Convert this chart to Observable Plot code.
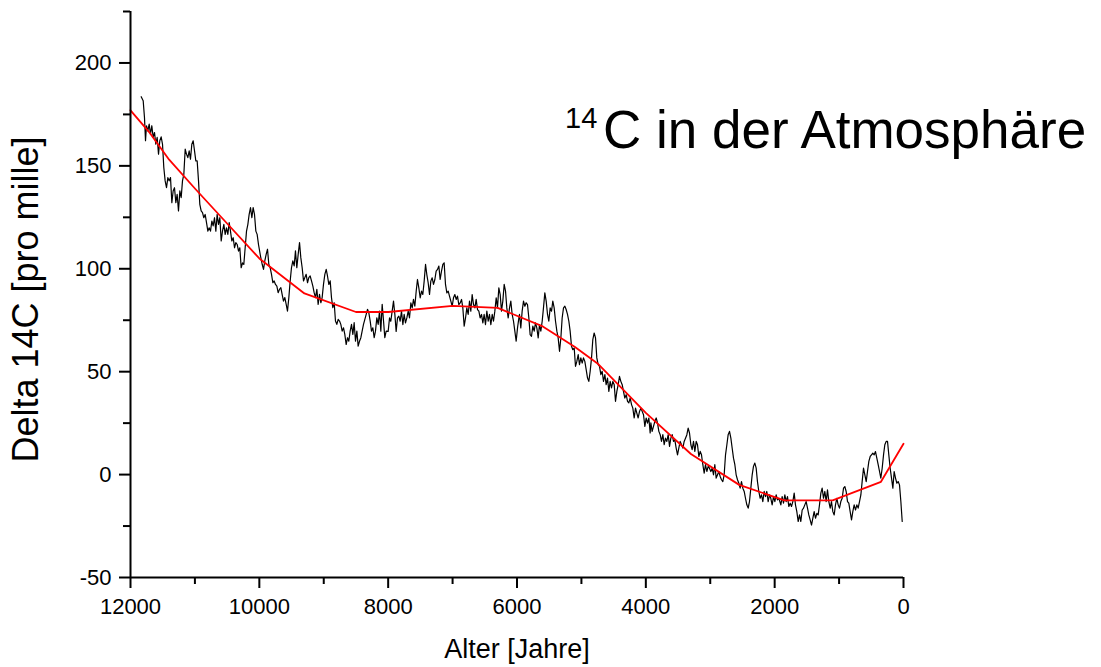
<!DOCTYPE html>
<html><head><meta charset="utf-8">
<script src="https://cdn.jsdelivr.net/npm/d3@7"></script>
<script src="https://cdn.jsdelivr.net/npm/@observablehq/plot@0.6"></script>
<style>
html,body{margin:0;padding:0;background:#fff;}
#chart{position:relative;width:1101px;height:667px;overflow:hidden;}
</style></head><body><div id="chart"></div>
<script>
// Tick labels
const xMajorTicks = [12000, 10000, 8000, 6000, 4000, 2000, 0];
const xMinorTicks = [11000, 9000, 7000, 5000, 3000, 1000];
const yMajorTicks = [-50, 0, 50, 100, 150, 200];
const yMinorTicks = [-25, 25, 75, 125, 175, 225];

// Measured Delta 14C (black)
const measuredAge = [11834,11803,11783,11767,11752,11731,11710,11690,11669,11648,11627,11607,11586,11565,11545,11524,11503,11483,11462,11441,11420,11400,11379,11358,11338,11317,11296,11276,11255,11234,11213,11193,11172,11151,11131,11110,11089,11069,11048,11027,11006,10986,10965,10944,10924,10903,10882,10862,10841,10820,10799,10779,10758,10737,10717,10696,10675,10655,10634,10613,10592,10572,10551,10530,10510,10489,10468,10448,10427,10406,10385,10365,10344,10323,10303,10282,10261,10241,10220,10199,10178,10158,10137,10116,10096,10075,10054,10034,10013,
9982,9956,9935,9915,9894,9873,9853,9832,9811,9790,9770,9749,9728,9708,9687,9666,9646,9625,9604,9583,9563,9542,9521,9501,9480,9459,9439,9418,9397,9376,9356,9335,9314,9294,9273,9252,9232,9211,9190,9169,9149,9128,9107,9087,9066,9045,9025,9004,8983,8962,8942,8921,8900,8880,8859,8838,8818,8797,8776,8755,8735,8714,8693,8673,8652,8631,8611,8590,8569,8548,8528,8507,8486,8466,8445,8424,8404,8383,8362,8341,8321,8300,8279,8259,8238,8217,8197,8176,8155,8134,8114,8093,8072,8052,8031,
8000,7979,7959,7938,7917,7896,7876,7855,7834,7814,7793,7772,7752,7731,7710,7689,7669,7648,7627,7607,7586,7565,7545,7524,7503,7482,7462,7441,7420,7400,7379,7358,7338,7317,7296,7275,7255,7234,7213,7193,7172,7151,7131,7110,7089,7068,7048,7027,7006,6986,6965,6944,6924,6903,6882,6861,6841,6820,6799,6779,6758,6737,6717,6696,6675,6654,6634,6613,6592,6572,6551,6530,6510,6489,6468,6447,6427,6406,6385,6365,6344,6323,6303,6282,6261,6241,6220,6199,6178,6158,6137,6116,6096,6075,6054,6033,6013,5992,5971,
5961,5941,5920,5899,5878,5858,5837,5816,5796,5775,5754,5733,5713,5692,5671,5651,5630,5609,5589,5568,5547,5526,5506,5485,5464,5444,5423,5402,5381,5361,5340,5319,5299,5278,5257,5237,5216,5195,5175,5154,5133,5112,5092,5071,5050,5030,5009,4988,4968,4947,4926,4905,4885,4864,4843,4823,4802,4781,4761,4740,4719,4698,4678,4657,4636,4616,4595,4574,4554,4533,4512,4491,4471,4450,4429,4409,4388,4367,4347,4326,4305,4284,4264,4243,4222,4202,4181,4160,4140,4119,4098,4077,4057,4036,4015,3995,3974,3953,3933,
3922,3902,3881,3860,3839,3819,3798,3777,3757,3736,3715,3695,3674,3653,3632,3612,3591,3570,3550,3529,3508,3488,3467,3446,3425,3405,3384,3363,3343,3322,3301,3281,3260,3239,3218,3198,3177,3156,3136,3115,3094,3074,3053,3032,3012,2991,2970,2949,2929,2908,2887,2867,2846,2825,2805,2784,2763,2742,2722,2701,2680,2660,2639,2618,2598,2577,2556,2536,2515,2494,2473,2453,2432,2411,2391,2370,2349,2329,2308,2287,2267,2246,2225,2204,2184,2163,2142,2122,2101,2080,2060,2039,2018,1997,1977,1956,1935,
1904,1884,1863,1842,1821,1801,1780,1759,1739,1718,1697,1677,1656,1635,1614,1594,1573,1552,1532,1511,1490,1470,1449,1428,1407,1387,1366,1345,1325,1304,1283,1263,1242,1221,1200,1180,1159,1138,1118,1097,1076,1056,1035,1014,994,973,952,931,911,890,869,849,828,807,787,766,745,724,704,683,662,642,621,600,579,559,538,517,497,476,455,435,414,393,372,352,331,310,290,269,248,228,207,186,165,145,124,103,83,62,41,20];
const measuredDelta = [183.6,181.6,173.5,162.2,169.5,167,170.3,165.4,169.5,163.8,166.2,160.5,163.8,155.7,162.2,164.1,160.5,149.2,142.7,139.4,144.3,142.7,144.3,132.1,137.8,139.4,132.1,136.2,128.1,137.8,134.6,142.7,145.9,158.1,155.7,154,157.3,153.2,160.5,162.2,157.3,152.4,152.4,142.7,131.3,128.1,127.3,124.8,126.4,122.4,118.3,119.9,118.3,123.2,120.8,124.8,118.3,126.4,121.6,124.8,113.5,118.3,121.6,116.7,119.9,116.7,122.4,118.3,113.5,115.1,110.2,112.7,111.8,108.6,110.2,100.5,102.9,102.1,110.2,118.3,121.6,126.4,129.7,124.8,129.7,126.4,118.3,116.7,111.8,
106.2,102.2,99.7,103.8,107.0,109.5,102.2,100.5,97.3,93.2,94.1,92.4,91.6,88.4,90.0,90.8,87.6,84.3,86.0,82.7,79.4,86.0,94.1,100.5,103.8,101.4,108.7,100.5,107.0,112.7,105.4,100.5,94.1,95.7,97.3,93.2,95.7,96.5,94.1,91.6,88.4,86.0,90.0,82.7,87.6,83.5,86.0,92.4,97.3,99.7,96.5,92.4,94.1,86.0,81.1,83.5,74.6,73.0,75.4,74.6,73.0,69.7,71.3,68.1,63.2,66.5,64.8,69.7,73.0,68.1,73.8,64.8,69.7,62.4,64.8,66.5,69.7,73.0,75.4,77.8,80.3,78.6,74.6,69.7,71.3,66.5,69.7,76.2,73.0,79.4,69.7,82.7,74.6,66.5,69.7,
69.6,76.1,74.5,79.4,84.3,77.8,69.6,76.1,77.0,74.5,79.4,72.9,77.8,73.7,76.1,79.4,76.1,83.4,81.0,85.1,81.8,89.1,94.8,90.7,85.9,89.1,87.5,94.0,102.1,97.2,93.2,87.5,94.0,95.6,92.4,94.8,98.9,99.7,101.3,94.8,98.9,102.1,102.9,92.4,88.3,89.1,86.7,84.3,81.8,85.9,87.5,85.1,86.7,82.6,83.4,85.1,81.0,72.1,76.1,81.0,77.8,84.3,79.4,87.5,82.6,81.0,85.1,80.2,79.4,76.1,77.8,73.7,77.8,72.9,79.4,74.5,77.8,72.9,77.8,74.5,79.4,85.9,81.0,90.7,87.5,79.4,84.3,92.4,89.1,81.0,76.1,81.0,84.3,77.8,74.5,69.6,64.8,71.3,76.1,
77.8,71.3,79.4,84.3,81.8,83.5,82.6,76.1,68.0,67.2,72.1,69.7,73.7,71.3,66.4,72.9,69.7,74.5,81.0,88.3,84.3,77.8,74.5,81.0,79.4,84.3,81.0,74.5,69.7,66.4,59.9,66.4,76.1,81.0,81.8,80.2,77.8,74.5,69.7,62.4,60.7,61.5,52.6,55.0,58.3,53.4,56.7,54.2,56.7,55.0,51.0,46.9,45.3,50.2,56.7,65.6,68.8,66.4,56.7,53.4,52.6,48.6,50.2,45.3,48.6,43.7,46.9,40.4,45.3,42.1,45.3,43.7,35.6,40.4,43.7,47.7,45.3,43.7,40.4,37.2,38.8,35.6,34.8,37.2,34.0,32.3,27.5,32.3,29.9,27.5,30.7,32.3,30.7,29.1,23.4,27.5,25.0,27.5,20.2,
25.1,21.0,23.4,25.9,27.5,25.1,21.0,19.4,16.1,19.4,14.5,17.7,16.1,19.4,13.7,17.7,19.4,16.1,16.9,12.9,9.6,12.9,16.1,14.5,12.9,16.1,17.7,19.4,22.6,20.2,14.5,12.1,16.1,11.3,16.1,14.5,8.8,11.3,9.6,4.8,0.7,4.8,1.5,4.0,3.1,1.5,3.1,-0.1,4.8,-1.7,-0.1,1.5,-0.9,-2.5,-3.4,-0.1,9.6,14.5,19.4,21.0,17.7,12.9,8.0,4.8,-0.1,-2.5,-4.2,-6.6,-3.4,-6.6,-8.2,-11.5,-14.7,-16.3,-13.1,-6.6,-0.1,4.0,5.6,3.1,-3.4,-8.2,-11.5,-9.8,-13.1,-8.2,-10.7,-8.2,-13.1,-9.8,-11.5,-14.7,-10.7,-13.1,-9.8,-12.3,-11.5,
-14.7,-10.7,-13.9,-9.9,-13.1,-10.7,-15.5,-13.9,-15.5,-13.1,-9.0,-14.7,-18.0,-22.8,-19.6,-22.8,-17.2,-16.3,-14.7,-13.1,-16.3,-19.6,-22.0,-24.5,-21.2,-18.0,-21.2,-18.8,-19.6,-14.7,-9.0,-6.6,-11.5,-8.2,-13.1,-7.4,-13.1,-16.3,-13.1,-18.0,-19.6,-14.7,-11.5,-14.7,-16.3,-13.1,-11.5,-6.6,-5.8,-8.2,-13.1,-13.9,-18.0,-22.0,-18.0,-14.7,-17.2,-14.7,-16.3,-13.1,-9.9,-3.4,3.1,-0.1,-3.4,1.5,6.4,8.8,9.6,10.4,9.6,11.2,8.0,4.8,1.5,-1.7,3.1,9.6,14.5,16.1,16.1,9.6,3.1,-1.7,-6.6,1.5,-1.7,-4.2,-3.4,-5.0,-13.1,-22.8];

// Smoothed trend (red)
const trendAge = [12000, 11700, 11400, 11000, 10500, 10000, 9300, 8500, 8000, 7000, 6300, 5600, 5100, 4750, 4000, 3300, 2550, 1850, 1100, 350, 0];
const trendDelta = [177, 166, 153, 139, 122, 105, 88, 79, 79, 82, 81, 72, 62, 54, 30, 10, -5, -12.5, -12.5, -3.5, 15];

const measured = measuredAge.map((a, i) => ({age: a, delta: measuredDelta[i]}));
const trend = trendAge.map((a, i) => ({age: a, delta: trendDelta[i]}));

const FONT = "'Liberation Sans', Arial, Helvetica, sans-serif";

const plot = Plot.plot({
  width: 1101,
  height: 667,
  marginLeft: 130,
  marginRight: 198,
  marginTop: 11,
  marginBottom: 90,
  style: {fontFamily: FONT, background: "#fff", color: "#000", overflow: "visible"},
  x: {domain: [12000, 0]},
  y: {domain: [-50, 225]},
  marks: [
    Plot.line(measured, {x: "age", y: "delta", stroke: "#000", strokeWidth: 1.2}),
    Plot.line(trend, {x: "age", y: "delta", stroke: "#ff0000", strokeWidth: 1.8}),
    Plot.ruleY([-50], {stroke: "#000", strokeWidth: 2}),
    Plot.ruleX([12000], {stroke: "#000", strokeWidth: 2}),
    Plot.axisX({ticks: xMajorTicks, tickSize: 11, tickPadding: 10, tickFormat: d => String(d), fontSize: 22, strokeWidth: 2, label: null}),
    Plot.axisX({ticks: xMinorTicks, tickSize: 7, tickFormat: null, text: null, strokeWidth: 2, label: null}),
    Plot.axisY({ticks: yMajorTicks, tickSize: 11, tickPadding: 8, tickFormat: d => String(d), fontSize: 22, strokeWidth: 2, label: null}),
    Plot.axisY({ticks: yMinorTicks, tickSize: 7, tickFormat: null, text: null, strokeWidth: 2, label: null}),
    Plot.text(["Alter [Jahre]"], {frameAnchor: "bottom", dy: 80, lineAnchor: "bottom", textAnchor: "middle", fontSize: 27, fill: "#000"}),
    Plot.text(["Delta 14C [pro mille]"], {frameAnchor: "left", dx: -118, dy: 5, rotate: -90, lineAnchor: "top", textAnchor: "middle", fontSize: 36, fill: "#000"})
  ]
});

document.getElementById("chart").appendChild(plot);

// Title with superscript
const svg = d3.select(plot);
const t = svg.append("text")
  .attr("y", 148)
  .attr("text-anchor", "start")
  .attr("font-family", FONT).attr("fill", "#000");
t.append("tspan").attr("x", 565).attr("font-size", 29).attr("dy", -20).text("14");
t.append("tspan").attr("x", 603).attr("font-size", 53).attr("dy", 20).text("C in der Atmosphäre");
</script>
</body></html>
